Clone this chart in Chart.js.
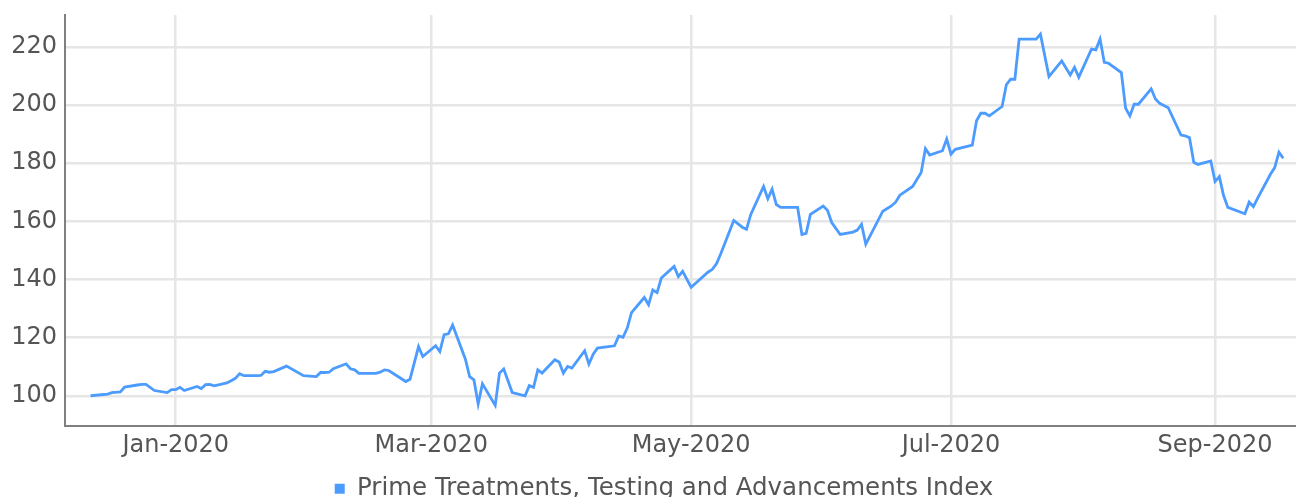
<!DOCTYPE html>
<html>
<head>
<meta charset="utf-8">
<title>Prime Treatments, Testing and Advancements Index</title>
<script src="https://cdn.jsdelivr.net/npm/chart.js@4.4.1/dist/chart.umd.min.js"></script>
<style>
  html, body { margin: 0; padding: 0; background: #fff; }
  #wrap { width: 1296px; height: 497px; }
</style>
</head>
<body>
<div id="wrap"><canvas id="indexChart" width="1296" height="497"></canvas></div>
<script>
// index series (base 100 on 2019-12-12)
const seriesName = 'Prime Treatments, Testing and Advancements Index';

const dates = [
  '2019-12-12', '2019-12-16', '2019-12-17', '2019-12-19', '2019-12-20', '2019-12-23', '2019-12-24',
  '2019-12-25', '2019-12-27', '2019-12-30', '2019-12-31', '2020-01-01', '2020-01-02', '2020-01-03',
  '2020-01-06', '2020-01-07', '2020-01-08', '2020-01-09', '2020-01-10', '2020-01-13', '2020-01-14',
  '2020-01-15', '2020-01-16', '2020-01-17', '2020-01-20', '2020-01-21', '2020-01-22', '2020-01-23',
  '2020-01-24', '2020-01-27', '2020-01-31', '2020-02-03', '2020-02-04', '2020-02-05', '2020-02-06',
  '2020-02-07', '2020-02-10', '2020-02-11', '2020-02-12', '2020-02-13', '2020-02-17', '2020-02-18',
  '2020-02-19', '2020-02-20', '2020-02-24', '2020-02-25', '2020-02-27', '2020-02-28', '2020-03-02',
  '2020-03-03', '2020-03-04', '2020-03-05', '2020-03-06', '2020-03-09', '2020-03-10', '2020-03-11',
  '2020-03-12', '2020-03-13', '2020-03-16', '2020-03-17', '2020-03-18', '2020-03-20', '2020-03-23',
  '2020-03-24', '2020-03-25', '2020-03-26', '2020-03-27', '2020-03-30', '2020-03-31', '2020-04-01',
  '2020-04-02', '2020-04-03', '2020-04-06', '2020-04-07', '2020-04-08', '2020-04-09', '2020-04-13',
  '2020-04-14', '2020-04-15', '2020-04-16', '2020-04-17', '2020-04-20', '2020-04-21', '2020-04-22',
  '2020-04-23', '2020-04-24', '2020-04-27', '2020-04-28', '2020-04-29', '2020-05-01', '2020-05-05',
  '2020-05-06', '2020-05-07', '2020-05-08', '2020-05-11', '2020-05-13', '2020-05-14', '2020-05-15',
  '2020-05-18', '2020-05-19', '2020-05-20', '2020-05-21', '2020-05-22', '2020-05-26', '2020-05-27',
  '2020-05-28', '2020-05-29', '2020-06-01', '2020-06-02', '2020-06-03', '2020-06-05', '2020-06-08',
  '2020-06-09', '2020-06-10', '2020-06-11', '2020-06-15', '2020-06-17', '2020-06-18', '2020-06-19',
  '2020-06-22', '2020-06-24', '2020-06-25', '2020-06-26', '2020-06-29', '2020-06-30', '2020-07-01',
  '2020-07-02', '2020-07-06', '2020-07-07', '2020-07-08', '2020-07-09', '2020-07-10', '2020-07-13',
  '2020-07-14', '2020-07-15', '2020-07-16', '2020-07-17', '2020-07-21', '2020-07-22', '2020-07-24',
  '2020-07-27', '2020-07-29', '2020-07-30', '2020-07-31', '2020-08-03', '2020-08-04', '2020-08-05',
  '2020-08-06', '2020-08-07', '2020-08-10', '2020-08-11', '2020-08-12', '2020-08-13', '2020-08-14',
  '2020-08-17', '2020-08-18', '2020-08-19', '2020-08-21', '2020-08-24', '2020-08-25', '2020-08-26',
  '2020-08-27', '2020-08-28', '2020-08-31', '2020-09-01', '2020-09-02', '2020-09-03', '2020-09-04',
  '2020-09-08', '2020-09-09', '2020-09-10', '2020-09-11', '2020-09-14', '2020-09-15', '2020-09-16',
  '2020-09-17'
];

const values = [
  100.0, 100.6, 101.1, 101.3, 103.0, 103.7, 103.9,
  103.9, 101.8, 101.1, 102.1, 102.1, 102.9, 101.8,
  103.2, 102.5, 103.8, 103.9, 103.4, 104.4, 105.2,
  106.0, 107.6, 106.9, 106.9, 107.0, 108.4, 108.1,
  108.3, 110.2, 106.9, 106.6, 108.0, 108.0, 108.1,
  109.3, 111.0, 109.3, 108.9, 107.7, 107.7, 108.1,
  108.9, 108.7, 104.9, 105.7, 116.9, 113.5, 117.2,
  115.2, 121.0, 121.3, 124.3, 112.6, 106.6, 105.5,
  97.2, 104.1, 96.7, 107.8, 109.2, 101.1, 100.0,
  103.5, 102.9, 108.9, 107.8, 112.4, 111.6, 107.8,
  110.1, 109.5, 115.5, 110.9, 114.3, 116.4, 117.2,
  120.6, 120.1, 123.3, 128.6, 133.8, 131.3, 136.4,
  135.5, 140.5, 144.5, 141.0, 142.8, 137.3, 142.6,
  143.5, 145.6, 149.0, 160.3, 158.0, 157.3, 162.4,
  172.0, 167.8, 171.1, 165.8, 164.8, 164.8, 155.5,
  155.9, 162.4, 165.3, 163.8, 159.6, 155.5, 156.3,
  157.0, 159.0, 152.2, 163.5, 165.3, 166.6, 169.0,
  172.0, 176.8, 185.0, 182.8, 184.3, 188.3, 183.1,
  184.8, 186.2, 194.6, 197.2, 197.2, 196.3, 199.5,
  207.0, 208.9, 208.9, 222.7, 222.7, 224.4, 209.8,
  215.2, 210.4, 213.0, 209.6, 219.3, 219.0, 222.7,
  214.7, 214.4, 211.2, 198.9, 196.3, 200.3, 200.3,
  205.6, 202.1, 200.6, 199.1, 189.7, 189.4, 188.8,
  180.3, 179.6, 180.8, 173.7, 175.4, 168.9, 164.8,
  162.6, 166.6, 165.1, 168.0, 176.2, 178.5, 183.8,
  181.7
];

const xTickDates = ['2020-01-01', '2020-03-01', '2020-05-01', '2020-07-01', '2020-09-01'];
const xTickLabels = ['Jan-2020', 'Mar-2020', 'May-2020', 'Jul-2020', 'Sep-2020'];
const yTicks = [100, 120, 140, 160, 180, 200, 220];

// days since 2020-01-01, used as the x value on a plain linear axis
const EPOCH = Date.UTC(2020, 0, 1);
function dayNumber(iso) {
  const [y, m, d] = iso.split('-').map(Number);
  return (Date.UTC(y, m - 1, d) - EPOCH) / 86400000;
}

const lineColor = '#4c9bff';
const textColor = '#555555';
const gridColor = '#e6e6e6';
const axisColor = '#808080';
const font = { family: 'DejaVu Sans', size: 24 };

const points = dates.map((d, i) => ({ x: dayNumber(d), y: values[i] }));

// nudge the legend row a little right of the canvas centre
const legendOffset = {
  id: 'legendOffset',
  afterLayout(chart) {
    chart.legend.left += 16;
    chart.legend.right += 16;
  }
};

new Chart(document.getElementById('indexChart'), {
  type: 'line',
  data: {
    datasets: [{
      label: seriesName,
      data: points,
      borderColor: lineColor,
      backgroundColor: lineColor,
      borderWidth: 2.8,
      pointRadius: 0,
      tension: 0,
      fill: false
    }]
  },
  options: {
    responsive: false,
    animation: false,
    layout: { padding: { top: 15, left: 0, right: 0, bottom: -14 } },
    scales: {
      x: {
        type: 'linear',
        min: dayNumber('2019-12-06'),
        max: dayNumber('2020-09-20'),
        afterBuildTicks: scale => {
          scale.ticks = xTickDates.map(d => ({ value: dayNumber(d) }));
        },
        ticks: {
          autoSkip: false,
          maxRotation: 0,
          padding: 6,
          color: textColor,
          font: font,
          callback: (value, index) => xTickLabels[index]
        },
        grid: { color: gridColor, lineWidth: 2.5, drawTicks: false },
        border: { color: axisColor, width: 2 }
      },
      y: {
        min: 89.7,
        max: 231,
        afterBuildTicks: scale => {
          scale.ticks = yTicks.map(v => ({ value: v }));
        },
        // fixed axis width; no extra room reserved above/below for labels
        afterFit: scale => {
          scale.width = 65;
          scale.paddingTop = 0;
          scale.paddingBottom = 0;
        },
        ticks: {
          padding: 8,
          color: textColor,
          font: font
        },
        grid: { color: gridColor, lineWidth: 2.5, drawTicks: false },
        border: { color: axisColor, width: 2 }
      }
    },
    plugins: {
      legend: {
        position: 'bottom',
        labels: {
          color: textColor,
          font: { family: 'DejaVu Sans', size: 24.5 },
          boxWidth: 10,
          boxHeight: 10,
          padding: 10,
          // plain filled square, no stroke
          generateLabels: chart => chart.data.datasets.map((ds, i) => ({
            text: ds.label,
            fillStyle: ds.borderColor,
            strokeStyle: ds.borderColor,
            lineWidth: 0,
            fontColor: textColor,
            hidden: false,
            datasetIndex: i
          }))
        }
      },
      tooltip: { enabled: false }
    }
  },
  plugins: [legendOffset]
});
</script>
</body>
</html>
